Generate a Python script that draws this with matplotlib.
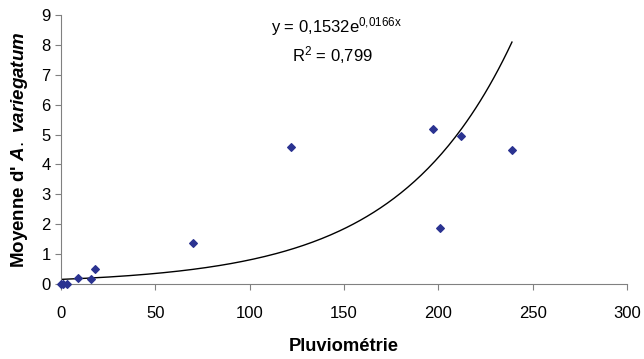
import matplotlib.pyplot as plt
import numpy as np

# données
pluvio = [0, 1, 3, 9, 16, 18, 70, 122, 197, 201, 212, 239]
moyenne = [0, 0, 0, 0.2, 0.17, 0.5, 1.37, 4.57, 5.2, 1.86, 4.95, 4.5]

# courbe de tendance exponentielle
coef_a = 0.1532
coef_b = 0.0166

x_ticks = [0, 50, 100, 150, 200, 250, 300]
y_ticks = list(range(0, 10))

plt.rcParams['font.family'] = ['Liberation Sans', 'DejaVu Sans']
plt.rcParams['mathtext.fontset'] = 'custom'
plt.rcParams['mathtext.rm'] = 'Liberation Sans'
plt.rcParams['mathtext.it'] = 'Liberation Sans:italic:bold'

fig = plt.figure(figsize=(6.44, 3.59), dpi=100)
ax = fig.add_axes([0.0947, 0.209, 0.879, 0.749])

xs = np.linspace(min(pluvio), max(pluvio), 200)
ax.plot(xs, coef_a * np.exp(coef_b * xs), color='black', lw=1.0)
ax.scatter(pluvio, moyenne, marker='D', s=15, color='#2B3391', zorder=3, clip_on=False)

ax.set_xlim(0, 300)
ax.set_ylim(0, 9)
ax.set_xticks(x_ticks)
ax.set_yticks(y_ticks)
ax.tick_params(labelsize=12, color='#808080', length=4)
ax.tick_params(axis='x', pad=12)
for side in ['top', 'right']:
    ax.spines[side].set_visible(False)
for side in ['left', 'bottom']:
    ax.spines[side].set_color('#808080')

ax.set_xlabel('Pluviométrie', fontsize=13.2, fontweight='bold', labelpad=12)
ax.set_ylabel(r"Moyenne d' $\mathit{A.\ variegatum}$", fontsize=13.5, fontweight='bold', labelpad=8)

ax.text(0.486, 0.959, r'y = 0,1532e$^{0{,}0166\mathrm{x}}$', transform=ax.transAxes,
        ha='center', va='center', fontsize=12)
ax.text(0.48, 0.851, r'R$^{2}$ = 0,799', transform=ax.transAxes,
        ha='center', va='center', fontsize=12)

plt.savefig('out.png', dpi=100)
